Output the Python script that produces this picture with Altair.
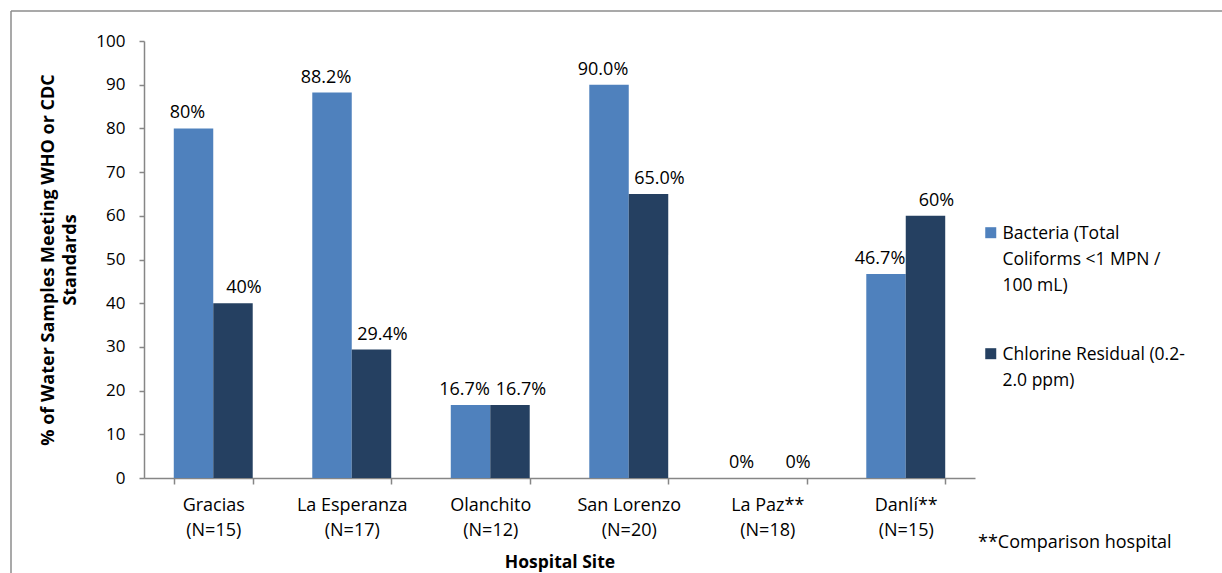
import altair as alt
import pandas as pd

sites = ["Gracias", "La Esperanza", "Olanchito", "San Lorenzo", "La Paz**", "Danlí**"]
sample_n = [15, 17, 12, 20, 18, 15]
series = ["Bacteria (Total Coliforms <1 MPN / 100 mL)", "Chlorine Residual (0.2-2.0 ppm)"]
bacteria = [80, 88.2, 16.7, 90.0, 0, 46.7]
chlorine = [40, 29.4, 16.7, 65.0, 0, 60]
bacteria_lbl = ["80%", "88.2%", "16.7%", "90.0%", "0%", "46.7%"]
chlorine_lbl = ["40%", "29.4%", "16.7%", "65.0%", "0%", "60%"]
legend_lines = [["Bacteria (Total", "Coliforms <1 MPN /", "100 mL)"], ["Chlorine Residual (0.2-", "2.0 ppm)"]]
colors = ["#4F81BD", "#254061"]
note = "**Comparison hospital"

site_labels = [f"{s}\n(N={n})" for s, n in zip(sites, sample_n)]
rows = []
for i, sl in enumerate(site_labels):
    rows.append({"site": sl, "series": series[0], "value": bacteria[i], "label": bacteria_lbl[i]})
    rows.append({"site": sl, "series": series[1], "value": chlorine[i], "label": chlorine_lbl[i]})
df = pd.DataFrame(rows)

FONT = "Open Sans"
W, H = 831, 437

leg_expr = "datum.label == '%s' ? %s : %s" % (
    series[0],
    "[" + ",".join("'%s'" % t for t in legend_lines[0]) + "]",
    "[" + ",".join("'%s'" % t for t in legend_lines[1]) + "]",
)

x_enc = alt.X(
    "site:N", sort=site_labels,
    scale=alt.Scale(paddingInner=0.43, paddingOuter=0.215),
    axis=alt.Axis(
        title="Hospital Site", labelExpr="split(datum.label, '\\n')", labelAngle=0,
        labelLineHeight=25, labelFontSize=18, labelFont=FONT, labelColor="#000000",
        labelPadding=12, tickBand="extent", tickSize=6, tickColor="#868686",
        domainColor="#868686", domainWidth=1.5, tickWidth=1.5,
        titleFont=FONT, titleFontSize=17.5, titleFontWeight="bold", titlePadding=14,
        titleColor="#000000",
    ),
)

bars = alt.Chart(df).mark_bar().encode(
    x=x_enc,
    xOffset=alt.XOffset("series:N", sort=series),
    y=alt.Y(
        "value:Q", scale=alt.Scale(domain=[0, 100]),
        axis=alt.Axis(
            title=["% of Water Samples Meeting WHO or CDC", "Standards"],
            values=list(range(0, 101, 10)), grid=False, tickSize=5,
            tickColor="#868686", domainColor="#868686", domainWidth=1.5, tickWidth=1.5,
            labelFont=FONT, labelFontSize=17, labelColor="#000000", labelPadding=14,
            titleFont=FONT, titleFontSize=18, titleFontWeight="bold",
            titleColor="#000000", titlePadding=16, titleLineHeight=22,
        ),
    ),
    color=alt.Color(
        "series:N", sort=series, scale=alt.Scale(domain=series, range=colors),
        legend=alt.Legend(
            title=None, orient="none", legendX=838, legendY=189,
            symbolType="M-1,-2.1H1V-0.1H-1Z", symbolSize=121, symbolStrokeWidth=0,
            labelExpr=leg_expr, labelFont=FONT, labelFontSize=17.5, labelColor="#000000",
            labelLimit=300, labelBaseline="alphabetic",
            rowPadding=50, labelOffset=3,
        ),
    ),
)

def label_layer(name, shift):
    return alt.Chart(df).transform_filter(
        alt.datum.series == name
    ).mark_text(
        baseline="alphabetic", dy=-10, dx=shift, font=FONT, fontSize=18, color="#000000"
    ).encode(
        x=alt.X("site:N", sort=site_labels),
        xOffset=alt.XOffset("series:N", sort=series, scale=alt.Scale(domain=series)),
        y="value:Q",
        text="label:N",
    )

labels_b = label_layer(series[0], -6)
labels_c = label_layer(series[1], 11)

note_df = pd.DataFrame({"t": [note]})
note_mark = alt.Chart(note_df).mark_text(
    align="left", baseline="middle", font=FONT, fontSize=18, color="#000000"
).encode(x=alt.value(834), y=alt.value(502), text="t:N")

frame_df = pd.DataFrame({"k": [0]})
frame_top = alt.Chart(frame_df).mark_rule(color="#8c8c8c", strokeWidth=1.5).encode(
    x=alt.value(-133), x2=alt.value(1078), y=alt.value(-30)
)
frame_left = alt.Chart(frame_df).mark_rule(color="#8c8c8c", strokeWidth=1.5).encode(
    x=alt.value(-133), y=alt.value(-30), y2=alt.value(540)
)

chart = alt.layer(bars, labels_b, labels_c, note_mark, frame_top, frame_left).properties(
    width=W, height=H,
    padding={"left": 144, "top": 41, "right": 247, "bottom": 95},
    autosize=alt.AutoSizeParams(type="none"),
).configure(
    background="white", style={"guide-label": {"lineHeight": 26}}
).configure_view(strokeWidth=0)

chart.save("out.html", embed_options={"renderer": "svg", "actions": False})
